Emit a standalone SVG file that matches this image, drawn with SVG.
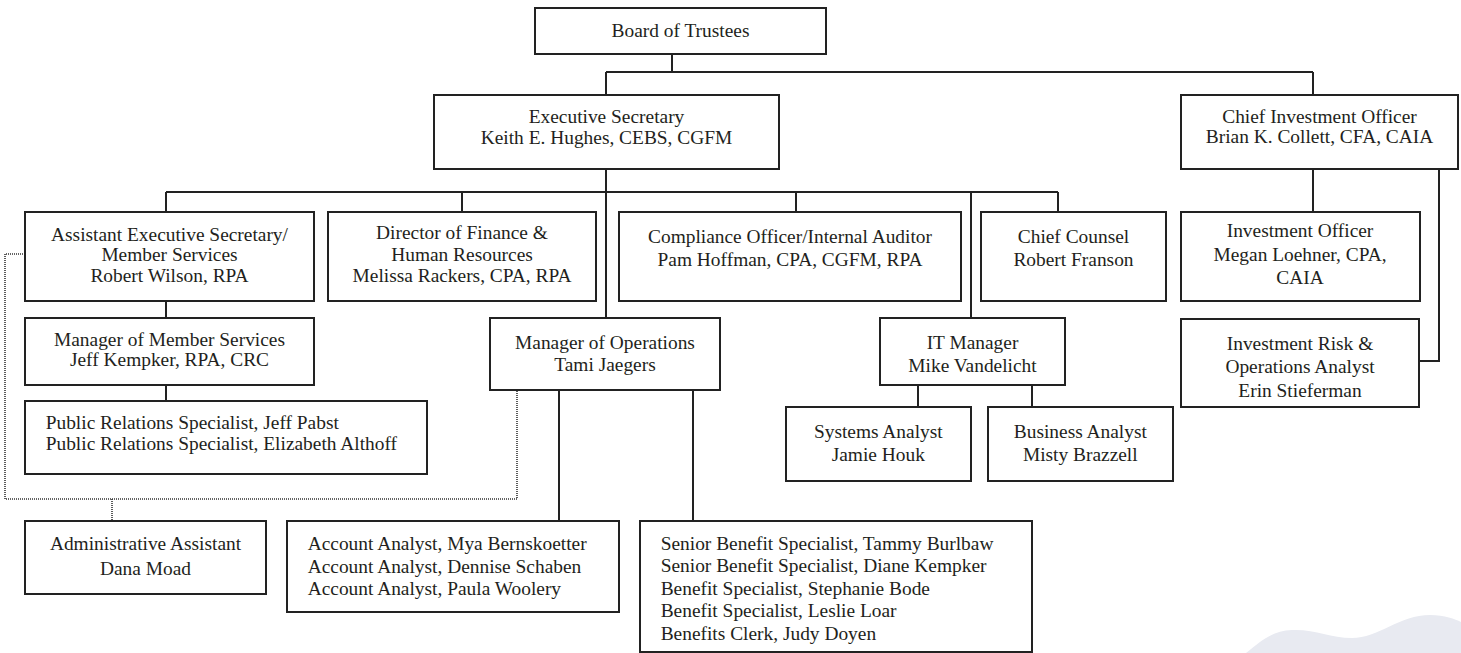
<svg xmlns="http://www.w3.org/2000/svg" width="1461" height="653" viewBox="0 0 1461 653">
<defs>
<style>
.box{fill:#fff;stroke:#222;stroke-width:2}
.ln{fill:none;stroke:#222;stroke-width:2}
.dot{fill:none;stroke:#333;stroke-width:1.6;stroke-dasharray:1 1}
text{font-family:"Liberation Serif","Times New Roman",serif;font-size:19.4px;fill:#231f20}
.c{text-anchor:middle}
</style>
</defs>
<rect width="1461" height="653" fill="#fff"/>
<path d="M1246,653 C1262,640 1272,631 1292,630 C1315,629 1330,638 1352,638 C1378,638 1400,615 1430,615 C1445,615 1455,619 1461,622 L1461,653 Z" fill="#e8eaf1"/>
<g id="connectors">
<path class="ln" d="M672,54V72M606,72H1313M606,72V95M1313,72V95"/>
<path class="ln" d="M166,192H1058M606,169V318M166,192V212M462,192V212M796,192V212M971,192V318M1058,192V212"/>
<path class="ln" d="M166,301V318M166,385V401"/>
<path class="ln" d="M559,390V521M693,390V521"/>
<path class="ln" d="M918,385V407M1032,385V407"/>
<path class="ln" d="M1313,169V212M1439,169V361H1419"/>
<path class="dot" d="M25,254H5V499H517V390M112,499V521"/>
</g>
<g id="board"><rect class="box" x="535" y="8" width="291" height="46"/><text class="c" x="680.5" y="36.5">Board of Trustees</text></g>
<g id="exec"><rect class="box" x="434" y="95" width="345" height="74"/><text class="c" x="606.5" y="123.2">Executive Secretary</text><text class="c" x="606.5" y="144.2">Keith E. Hughes, CEBS, CGFM</text></g>
<g id="cio"><rect class="box" x="1181" y="95" width="277" height="74"/><text class="c" x="1319.5" y="122.5">Chief Investment Officer</text><text class="c" x="1319.5" y="143.2">Brian K. Collett, CFA, CAIA</text></g>
<g id="aes"><rect class="box" x="25" y="212" width="289" height="89"/><text class="c" x="169.5" y="240.5">Assistant Executive Secretary/</text><text class="c" x="169.5" y="260.5">Member Services</text><text class="c" x="169.5" y="282.2">Robert Wilson, RPA</text></g>
<g id="finance"><rect class="box" x="328" y="212" width="268" height="89"/><text class="c" x="462" y="239.2">Director of Finance &amp;</text><text class="c" x="462" y="260.5">Human Resources</text><text class="c" x="462" y="281.8">Melissa Rackers, CPA, RPA</text></g>
<g id="compliance"><rect class="box" x="619" y="212" width="342" height="89"/><text class="c" x="790" y="242.5">Compliance Officer/Internal Auditor</text><text class="c" x="790" y="265.8">Pam Hoffman, CPA, CGFM, RPA</text></g>
<g id="counsel"><rect class="box" x="981" y="212" width="185" height="89"/><text class="c" x="1073.5" y="242.5">Chief Counsel</text><text class="c" x="1073.5" y="266.2">Robert Franson</text></g>
<g id="invofficer"><rect class="box" x="1181" y="212" width="239" height="89"/><text class="c" x="1300" y="237.2">Investment Officer</text><text class="c" x="1300" y="260.8">Megan Loehner, CPA,</text><text class="c" x="1300" y="283.8">CAIA</text></g>
<g id="mms"><rect class="box" x="25" y="318" width="289" height="67"/><text class="c" x="169.5" y="345.5">Manager of Member Services</text><text class="c" x="169.5" y="366.2">Jeff Kempker, RPA, CRC</text></g>
<g id="ops"><rect class="box" x="490" y="318" width="230" height="72"/><text class="c" x="605" y="348.8">Manager of Operations</text><text class="c" x="605" y="371.2">Tami Jaegers</text></g>
<g id="it"><rect class="box" x="880" y="318" width="185" height="67"/><text class="c" x="972.5" y="348.8">IT Manager</text><text class="c" x="972.5" y="371.8">Mike Vandelicht</text></g>
<g id="risk"><rect class="box" x="1181" y="319" width="238" height="88"/><text class="c" x="1300" y="349.5">Investment Risk &amp;</text><text class="c" x="1300" y="373.2">Operations Analyst</text><text class="c" x="1300" y="397.2">Erin Stieferman</text></g>
<g id="pr"><rect class="box" x="25" y="401" width="402" height="73"/><text x="45.7" y="428.8">Public Relations Specialist, Jeff Pabst</text><text x="45.7" y="450.2">Public Relations Specialist, Elizabeth Althoff</text></g>
<g id="systems"><rect class="box" x="786" y="407" width="185" height="74"/><text class="c" x="878.3" y="438.2">Systems Analyst</text><text class="c" x="878.3" y="460.8">Jamie Houk</text></g>
<g id="business"><rect class="box" x="988" y="407" width="185" height="74"/><text class="c" x="1080.3" y="437.8">Business Analyst</text><text class="c" x="1080.3" y="460.8">Misty Brazzell</text></g>
<g id="admin"><rect class="box" x="25" y="521" width="241" height="73"/><text class="c" x="145.5" y="550.2">Administrative Assistant</text><text class="c" x="145.5" y="574.5">Dana Moad</text></g>
<g id="accounts"><rect class="box" x="287" y="521" width="332" height="91"/><text x="307.7" y="549.5">Account Analyst, Mya Bernskoetter</text><text x="307.7" y="572.8">Account Analyst, Dennise Schaben</text><text x="307.7" y="594.5">Account Analyst, Paula Woolery</text></g>
<g id="benefits"><rect class="box" x="640" y="521" width="392" height="131"/><text x="660.7" y="550.2">Senior Benefit Specialist, Tammy Burlbaw</text><text x="660.7" y="572.2">Senior Benefit Specialist, Diane Kempker</text><text x="660.7" y="594.5">Benefit Specialist, Stephanie Bode</text><text x="660.7" y="616.8">Benefit Specialist, Leslie Loar</text><text x="660.7" y="640.2">Benefits Clerk, Judy Doyen</text></g>
</svg>
